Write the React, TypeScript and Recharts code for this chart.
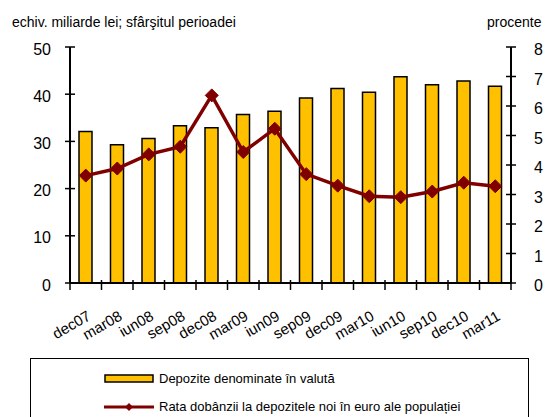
import { Bar, ComposedChart, Line, XAxis, YAxis } from "recharts";

const periods = [
  "dec07", "mar08", "iun08", "sep08", "dec08", "mar09", "iun09",
  "sep09", "dec09", "mar10", "iun10", "sep10", "dec10", "mar11",
];
const deposits = [32.1, 29.3, 30.6, 33.3, 32.9, 35.7, 36.4, 39.2, 41.2, 40.4, 43.7, 42.0, 42.8, 41.7];
const rates = [3.64, 3.88, 4.36, 4.62, 6.36, 4.44, 5.23, 3.69, 3.3, 2.94, 2.91, 3.1, 3.4, 3.28];
const leftTicks = [0, 10, 20, 30, 40, 50];
const rightTicks = [0, 1, 2, 3, 4, 5, 6, 7, 8];

const data = periods.map((p, i) => ({ period: p, deposits: deposits[i], rate: rates[i] }));

const FONT = "'Liberation Sans', Arial, sans-serif";
const LEFT = 70;
const RIGHT_W = 41;
const W = 552;
const BAND = (W - LEFT - RIGHT_W) / periods.length;
const BAR = "#FFC000";
const LINE = "#800000";

const XTick = (props: any) => {
  const { x, y, payload, index } = props;
  const tx = x + 6;
  const ty = y + 36;
  return (
    <g>
      <line x1={x - BAND / 2} x2={x - BAND / 2} y1={y - 3} y2={y + 7} stroke="#000" strokeWidth={1.5} />
      {index === periods.length - 1 && (
        <line x1={x + BAND / 2} x2={x + BAND / 2} y1={y - 3} y2={y + 7} stroke="#000" strokeWidth={1.5} />
      )}
      <text
        x={tx}
        y={ty}
        textAnchor="end"
        transform={`rotate(-30, ${tx}, ${ty})`}
        fontSize={15}
        fontFamily={FONT}
        fill="#000"
      >
        {payload.value}
      </text>
    </g>
  );
};

const LeftTick = (props: any) => {
  const { x, y, payload } = props;
  return (
    <g>
      <line x1={x - 5} x2={x + 5} y1={y} y2={y} stroke="#000" strokeWidth={1.5} />
      <text x={x - 19} y={y + 7.5} textAnchor="end" fontSize={16} fontFamily={FONT} fill="#000">
        {payload.value}
      </text>
    </g>
  );
};

const RightTick = (props: any) => {
  const { x, y, payload } = props;
  return (
    <g>
      <line x1={x - 5} x2={x + 5} y1={y} y2={y} stroke="#000" strokeWidth={1.5} />
      <text x={x + 23} y={y + 8} textAnchor="start" fontSize={16} fontFamily={FONT} fill="#000">
        {payload.value}
      </text>
    </g>
  );
};

const Diamond = (props: any) => {
  const { cx, cy } = props;
  if (cx == null || cy == null) return null;
  const r = 6.5;
  return (
    <polygon
      points={`${cx},${cy - r} ${cx + r},${cy} ${cx},${cy + r} ${cx - r},${cy}`}
      fill={LINE}
      stroke={LINE}
    />
  );
};

export default function App() {
  return (
    <div
      style={{
        position: "absolute",
        left: 0,
        top: 0,
        width: W,
        height: 417,
        overflow: "hidden",
        background: "#fff",
        fontFamily: FONT,
      }}
    >
      <div style={{ position: "absolute", left: 12, top: 14, fontSize: 14, whiteSpace: "nowrap" }}>
        echiv. miliarde lei; sfârşitul perioadei
      </div>
      <div style={{ position: "absolute", left: 487, top: 14, fontSize: 14, whiteSpace: "nowrap" }}>
        procente
      </div>
      <ComposedChart
        width={W}
        height={360}
        data={data}
        margin={{ top: 47, right: 0, bottom: 0, left: 0 }}
      >
        <XAxis
          dataKey="period"
          interval={0}
          tickLine={false}
          tickSize={0}
          tickMargin={0}
          height={77}
          tick={<XTick />}
          axisLine={{ stroke: "#000", strokeWidth: 2 }}
        />
        <YAxis
          yAxisId="left"
          width={LEFT}
          domain={[0, 50]}
          ticks={leftTicks}
          tickLine={false}
          tickSize={0}
          tickMargin={0}
          tick={<LeftTick />}
          axisLine={{ stroke: "#000", strokeWidth: 2 }}
        />
        <YAxis
          yAxisId="right"
          orientation="right"
          width={RIGHT_W}
          domain={[0, 8]}
          ticks={rightTicks}
          tickLine={false}
          tickSize={0}
          tickMargin={0}
          tick={<RightTick />}
          axisLine={{ stroke: "#000", strokeWidth: 2 }}
        />
        <Bar
          yAxisId="left"
          dataKey="deposits"
          fill={BAR}
          stroke="#000"
          strokeWidth={1.5}
          barSize={13}
          isAnimationActive={false}
        />
        <Line
          yAxisId="right"
          dataKey="rate"
          stroke={LINE}
          strokeWidth={3.5}
          dot={<Diamond />}
          activeDot={false}
          isAnimationActive={false}
        />
      </ComposedChart>
      <div
        style={{
          position: "absolute",
          left: 30,
          top: 358,
          width: 499,
          height: 70,
          border: "1.5px solid #000",
          boxSizing: "border-box",
          fontSize: 13,
        }}
      >
        <div style={{ position: "absolute", left: 73, top: 12, display: "flex", alignItems: "center", whiteSpace: "nowrap" }}>
          <svg width={50} height={10} style={{ marginRight: 5 }}>
            <rect x={1} y={1} width={48} height={7} fill={BAR} stroke="#000" strokeWidth={1.5} />
          </svg>
          <span>Depozite denominate în valută</span>
        </div>
        <div style={{ position: "absolute", left: 73, top: 40, display: "flex", alignItems: "center", whiteSpace: "nowrap" }}>
          <svg width={50} height={10} style={{ marginRight: 5 }}>
            <line x1={0} x2={50} y1={5} y2={5} stroke={LINE} strokeWidth={3} />
            <polygon points="25,1 29,5 25,9 21,5" fill={LINE} />
          </svg>
          <span>Rata dobânzii la depozitele noi în euro ale populației</span>
        </div>
      </div>
    </div>
  );
}
